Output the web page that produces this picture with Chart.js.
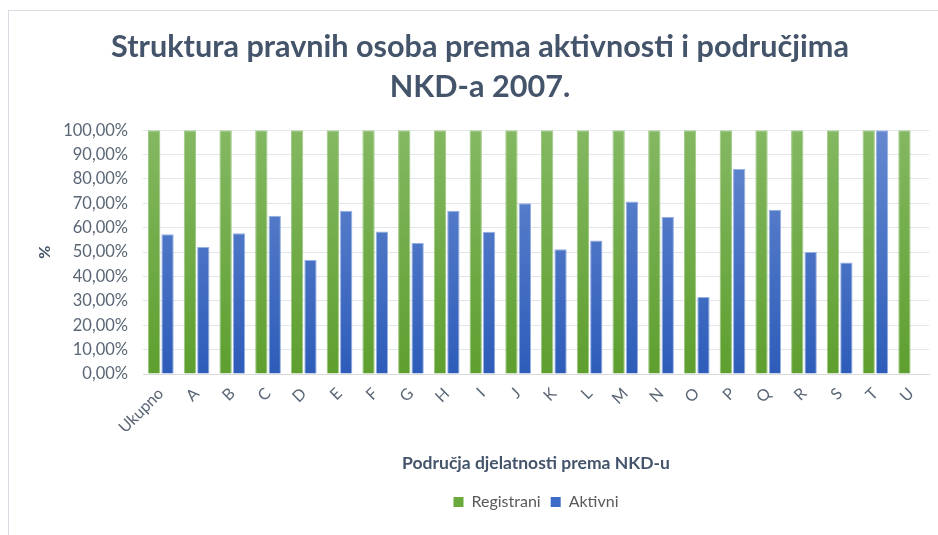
<!DOCTYPE html>
<html>
<head>
<meta charset="utf-8">
<script src="https://cdn.jsdelivr.net/npm/chart.js@4"></script>
<style>
  html, body { margin: 0; padding: 0; background: #fff; }
  #wrap { position: relative; width: 938px; height: 535px; overflow: hidden; }
  #frame { position: absolute; left: 8px; top: 10px; width: 1000px; height: 600px;
           border-left: 1px solid #d9dde3; border-top: 1px solid #d9dde3; }
  canvas { position: absolute; left: 0; top: 0; }
</style>
</head>
<body>
<div id="wrap">
  <div id="frame"></div>
  <canvas id="myChart" width="938" height="535"></canvas>
</div>
<script>
const categories = ['Ukupno', 'A', 'B', 'C', 'D', 'E', 'F', 'G', 'H', 'I', 'J', 'K', 'L', 'M', 'N', 'O', 'P', 'Q', 'R', 'S', 'T', 'U'];
const registrani = [100, 100, 100, 100, 100, 100, 100, 100, 100, 100, 100, 100, 100, 100, 100, 100, 100, 100, 100, 100, 100, 100];
const aktivni = [57.3, 52.1, 57.7, 64.9, 46.8, 67.0, 58.5, 53.7, 67.0, 58.4, 70.0, 51.2, 54.8, 70.8, 64.5, 31.6, 84.1, 67.4, 50.1, 45.8, 100, 0];
const yTicks = [0, 10, 20, 30, 40, 50, 60, 70, 80, 90, 100];

const textColor = '#44546a';
const tickColor = '#5a6675';

// vertical gradient across the plot area
function grad(top, bottom) {
	return function(context) {
		const area = context.chart.chartArea;
		if (!area) return bottom;
		const g = context.chart.ctx.createLinearGradient(0, area.top, 0, area.bottom);
		g.addColorStop(0, top);
		g.addColorStop(1, bottom);
		return g;
	};
}

const ctx = document.getElementById('myChart').getContext('2d');
const myChart = new Chart(ctx, {
	type: 'bar',
	data: {
		labels: categories,
		datasets: [
			{
				label: 'Registrani',
				data: registrani,
				backgroundColor: grad('#84b862', '#5e9f2f'),
				borderColor: '#9cc882',
				borderWidth: 1,
				categoryPercentage: 0.75,
				barPercentage: 0.92
			},
			{
				label: 'Aktivni',
				data: aktivni,
				backgroundColor: grad('#6689d0', '#2d5cb9'),
				borderColor: '#97b0e2',
				borderWidth: 1,
				categoryPercentage: 0.75,
				barPercentage: 0.92
			}
		]
	},
	options: {
		responsive: false,
		animation: false,
		layout: { padding: { left: 31, right: 9, top: 0, bottom: 15 } },
		plugins: {
			title: {
				display: true,
				text: ['Struktura pravnih osoba prema aktivnosti i područjima', 'NKD-a 2007.'],
				color: textColor,
				font: { family: 'Lato', size: 30.6, weight: 'bold', lineHeight: 1.31 },
				padding: { top: 27, bottom: 23 }
			},
			legend: {
				position: 'bottom',
				fullSize: false,
				labels: {
					color: '#595959',
					font: { family: 'Lato', size: 16 },
					boxWidth: 10,
					boxHeight: 10,
					padding: 10,
					generateLabels: function(chart) {
						const cols = ['#6aaa3c', '#3c6cc8'];
						return chart.data.datasets.map((ds, i) => ({
							text: ds.label,
							fillStyle: cols[i],
							strokeStyle: cols[i],
							lineWidth: 0,
							fontColor: '#595959',
							datasetIndex: i
						}));
					}
				}
			},
			tooltip: { enabled: false }
		},
		scales: {
			x: {
				grid: { display: false },
				border: { color: '#d9d9d9' },
				afterFit: function(scale) {
					// rotated "Ukupno" label may hang into the left margin
					scale.paddingLeft = 0;
					scale.paddingRight = 0;
				},
				ticks: {
					color: tickColor,
					font: { family: 'Lato', size: 16 },
					minRotation: 45,
					maxRotation: 45,
					padding: 2
				},
				title: {
					display: true,
					text: 'Područja djelatnosti prema NKD-u',
					color: textColor,
					font: { family: 'Lato', size: 17.5, weight: 'bold' },
					padding: { top: 14, bottom: 10 }
				}
			},
			y: {
				min: 0,
				max: 100,
				afterBuildTicks: function(axis) {
					axis.ticks = yTicks.map(v => ({ value: v }));
				},
				afterFit: function(scale) {
					scale.width = 112;
				},
				grid: { color: '#e3e6ea', drawTicks: false },
				border: { display: false },
				ticks: {
					color: tickColor,
					font: { family: 'Lato', size: 16.5 },
					padding: 15,
					callback: function(v) { return v.toFixed(2).replace('.', ',') + '%'; }
				},
				title: {
					display: true,
					text: '%',
					color: textColor,
					font: { family: 'Lato', size: 16, weight: 'bold' },
					padding: { top: 4, bottom: 8 }
				}
			}
		}
	}
});
</script>
</body>
</html>
